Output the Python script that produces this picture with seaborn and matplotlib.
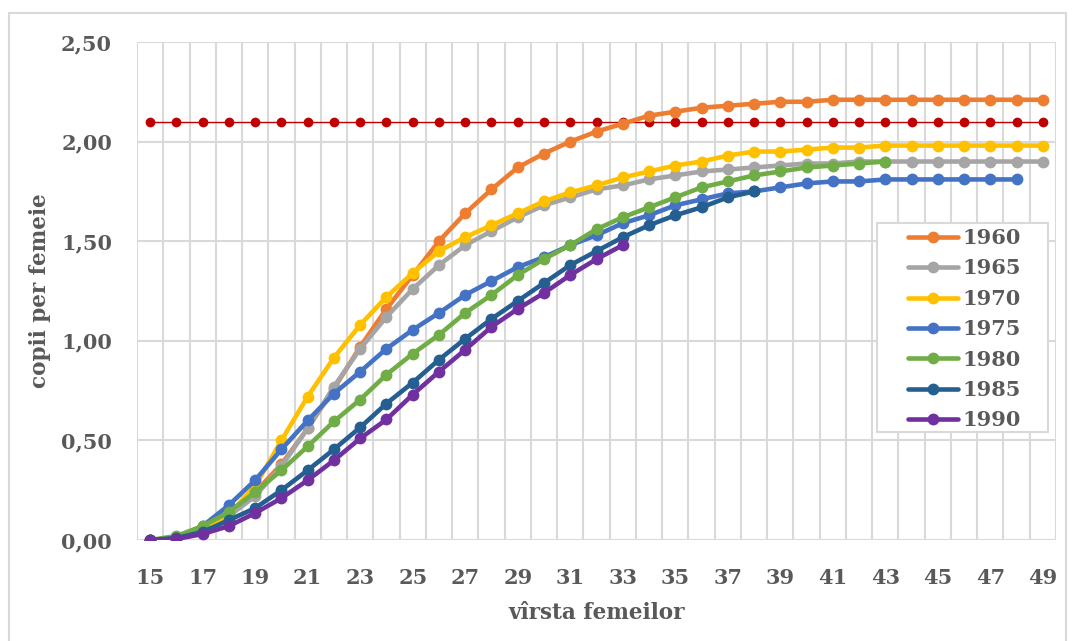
import numpy as np
import pandas as pd
import matplotlib
matplotlib.use("Agg")
import matplotlib.pyplot as plt
import seaborn as sns
from matplotlib.patches import Rectangle
from matplotlib.ticker import FuncFormatter, MultipleLocator

# Cumulative fertility by age of women, per birth cohort
ages = list(range(15, 50))

c1960 = [0.00, 0.01, 0.04, 0.12, 0.24, 0.38, 0.56, 0.76, 0.97, 1.16, 1.33, 1.50,
         1.64, 1.76, 1.87, 1.94, 2.00, 2.05, 2.09, 2.13, 2.15, 2.17, 2.18, 2.19,
         2.20, 2.20, 2.21, 2.21, 2.21, 2.21, 2.21, 2.21, 2.21, 2.21, 2.21]
c1965 = [0.00, 0.01, 0.04, 0.12, 0.22, 0.37, 0.56, 0.77, 0.96, 1.12, 1.26, 1.38,
         1.48, 1.55, 1.62, 1.68, 1.72, 1.76, 1.78, 1.81, 1.83, 1.85, 1.86, 1.87,
         1.88, 1.89, 1.89, 1.90, 1.90, 1.90, 1.90, 1.90, 1.90, 1.90, 1.90]
c1970 = [0.00, 0.01, 0.04, 0.13, 0.27, 0.50, 0.72, 0.915, 1.08, 1.22, 1.34, 1.45,
         1.52, 1.58, 1.64, 1.70, 1.745, 1.78, 1.82, 1.85, 1.88, 1.90, 1.93, 1.95,
         1.95, 1.96, 1.97, 1.97, 1.98, 1.98, 1.98, 1.98, 1.98, 1.98, 1.98]
c1975 = [0.00, 0.01, 0.07, 0.175, 0.30, 0.455, 0.60, 0.735, 0.845, 0.96, 1.055,
         1.14, 1.23, 1.30, 1.37, 1.42, 1.48, 1.53, 1.59, 1.63, 1.68, 1.71, 1.74,
         1.75, 1.77, 1.79, 1.80, 1.80, 1.81, 1.81, 1.81, 1.81, 1.81, 1.81]
c1980 = [0.00, 0.02, 0.07, 0.14, 0.24, 0.35, 0.47, 0.595, 0.705, 0.83, 0.935, 1.03,
         1.14, 1.23, 1.33, 1.41, 1.48, 1.56, 1.62, 1.67, 1.72, 1.77, 1.80, 1.83,
         1.85, 1.87, 1.88, 1.89, 1.90]
c1985 = [0.00, 0.01, 0.04, 0.10, 0.16, 0.25, 0.35, 0.455, 0.565, 0.685, 0.79,
         0.905, 1.01, 1.11, 1.20, 1.29, 1.38, 1.45, 1.52, 1.58, 1.63, 1.67, 1.72, 1.75]
c1990 = [0.00, 0.005, 0.03, 0.07, 0.135, 0.21, 0.30, 0.40, 0.51, 0.605, 0.73,
         0.845, 0.955, 1.07, 1.16, 1.24, 1.33, 1.41, 1.48]

replacement_level = 2.10

cohorts = ["1960", "1965", "1970", "1975", "1980", "1985", "1990"]
cohort_values = [c1960, c1965, c1970, c1975, c1980, c1985, c1990]
colors = ["#ED7D31", "#A5A5A5", "#FFC000", "#4472C4", "#70AD47", "#255E91", "#7030A0"]

frames = [pd.DataFrame({"varsta": ages[:len(v)], "copii": v, "cohorta": c})
          for c, v in zip(cohorts, cohort_values)]
df = pd.concat(frames, ignore_index=True)
ref = pd.DataFrame({"varsta": ages, "copii": [replacement_level] * len(ages)})

text_color = "#595959"
grid_color = "#D9D9D9"
font = ["DejaVu Serif"]

sns.set_theme(style="white")
plt.rcParams["font.family"] = font

W, H = 1072, 641
fig = plt.figure(figsize=(W / 100, H / 100), dpi=100)
ax = fig.add_axes([137 / W, 1 - 540 / H, (1056 - 137) / W, (540 - 42) / H])


def px_to_axes(x, y):
    """Convert figure pixel coordinates (origin top-left) to axes fractions."""
    return (x - 137) / (1056 - 137), (540 - y) / (540 - 42)


# chart-area border
fig.patches.append(Rectangle((9 / W, -0.05), (1066 - 9) / W, 1 - 13 / H + 0.05,
                             transform=fig.transFigure, fill=False,
                             edgecolor=grid_color, linewidth=1.5, zorder=0))

# replacement-level reference line
sns.lineplot(data=ref, x="varsta", y="copii", ax=ax, color="#C00000",
             linewidth=1.0, marker="o", markersize=7, markeredgewidth=0,
             errorbar=None, legend=False, zorder=3)

sns.lineplot(data=df, x="varsta", y="copii", hue="cohorta", hue_order=cohorts,
             palette=dict(zip(cohorts, colors)), ax=ax, linewidth=3.3,
             marker="o", markersize=8.5, markeredgewidth=0, errorbar=None,
             sort=True, legend=False, zorder=4)

ax.set_xlim(14.5, 49.5)
ax.set_ylim(0, 2.5)
ax.set_xticks(ages[::2])
ax.xaxis.set_minor_locator(MultipleLocator(1, offset=0.5))
ax.yaxis.set_major_locator(MultipleLocator(0.5))
ax.yaxis.set_major_formatter(FuncFormatter(lambda v, p: f"{v:.2f}".replace(".", ",")))

ax.grid(False)
ax.grid(True, which="minor", axis="x", color=grid_color, linewidth=1.5, zorder=0)
ax.grid(True, which="major", axis="y", color=grid_color, linewidth=1.5, zorder=0)
ax.set_axisbelow(True)
for side in ["top", "right", "bottom", "left"]:
    ax.spines[side].set_visible(False)

ax.tick_params(axis="both", which="both", length=0)
ax.tick_params(axis="x", pad=20)
ax.tick_params(axis="y", pad=18)
for lbl in ax.get_xticklabels() + ax.get_yticklabels():
    lbl.set_fontsize(15)
    lbl.set_fontweight("bold")
    lbl.set_color(text_color)

ax.set_xlabel("vîrsta femeilor", fontsize=15.5, fontweight="bold", color=text_color,
              labelpad=10)
ax.set_ylabel("copii per femeie", fontsize=15.5, fontweight="bold", color=text_color,
              labelpad=7)

# legend box with fixed extent, entries placed inside it
bx0, by0 = px_to_axes(877, 432)
bx1, by1 = px_to_axes(1048, 223)
ax.add_patch(Rectangle((bx0, by0), bx1 - bx0, by1 - by0, transform=ax.transAxes,
                       facecolor="white", edgecolor=grid_color, linewidth=1.5,
                       zorder=6))

handles = ax.get_lines()[1:1 + len(cohorts)]
lx, ly = px_to_axes(908, 228)
leg = ax.legend(handles, cohorts, loc="upper left", bbox_to_anchor=(lx, ly),
                frameon=False, prop={"family": font, "size": 15, "weight": "bold"},
                handlelength=2.4, handletextpad=0.2, labelspacing=0.5,
                borderpad=0, borderaxespad=0)
leg.set_zorder(7)
for t in leg.get_texts():
    t.set_color(text_color)

fig.savefig("out.png", dpi=100)
